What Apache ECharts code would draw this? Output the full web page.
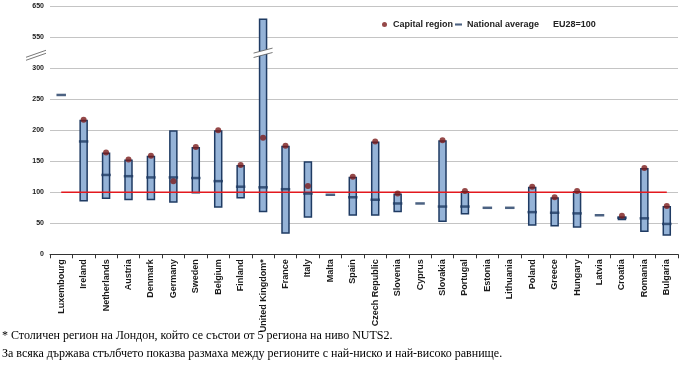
<!DOCTYPE html>
<html>
<head>
<meta charset="utf-8">
<script src="https://cdn.jsdelivr.net/npm/echarts@6/dist/echarts.min.js"></script>
<style>
html,body{margin:0;padding:0;background:#fff;}
#chart{width:685px;height:369px;}
</style>
</head>
<body>
<div id="chart"></div>
<script>
// ---- data (EU28 = 100) ----
const categories = ['Luxembourg','Ireland','Netherlands','Austria','Denmark','Germany','Sweden','Belgium','Finland','United Kingdom*','France','Italy','Malta','Spain','Czech Republic','Slovenia','Cyprus','Slovakia','Portugal','Estonia','Lithuania','Poland','Greece','Hungary','Latvia','Croatia','Romania','Bulgaria'];
const lowestRegion  = [null,85,89,87,87,83,98,75,90,68,33,59,null,62,62,68,null,52,64,null,null,46,45,43,null,55,36,30];
const highestRegion = [null,217,164,153,159,200,173,200,144,611,175,150,null,125,182,98,null,184,102,null,null,109,92,102,null,61,139,78];
const nationalAverage = [257,182,128,126,124,124,123,118,109,108,105,98,96,92,88,82,82,77,77,75,75,68,67,66,63,59,58,49];
const capitalRegion = [null,217,164,153,159,118,173,200,144,188,175,110,null,125,182,98,null,184,102,null,null,109,92,102,null,62,139,78];
const euLevel = 100;
const yTickLabels = ['0','50','100','150','200','250','300','550','650'];

// broken axis: 0-300 linear, 300-550 compressed into one step, 550-650 into one step
function brokenAxis(v){
  if (v == null) return null;
  if (v <= 300) return v;
  if (v <= 550) return 300 + (v - 300) * 0.2;
  return 350 + (v - 550) * 0.5;
}

const baseData = lowestRegion.map(v => brokenAxis(v));
const rangeData = highestRegion.map((h, i) => (h == null || lowestRegion[i] == null) ? null : brokenAxis(h) - brokenAxis(lowestRegion[i]));
const natData = nationalAverage.map(v => brokenAxis(v));
const capData = capitalRegion.map(v => brokenAxis(v));
const euData = categories.map(() => euLevel);

const chart = echarts.init(document.getElementById('chart'), null, {renderer:'canvas'});
const FONT = 'Liberation Sans, Arial, sans-serif';
const option = {
  animation: false,
  backgroundColor: '#ffffff',
  grid: {left: 50, right: 7, top: 6.3, bottom: 114.7},
  legend: {
    left: 377, top: 15,
    itemWidth: 7, itemHeight: 5, itemGap: 2,
    textStyle: {fontFamily: FONT, fontSize: 9, fontWeight: 'bold', color: '#222'},
    selectedMode: false,
    data: [
      {name: 'Capital region', icon: 'circle'},
      {name: 'National average', icon: 'path://M0,0 L10,0 L10,3 L0,3 Z'},
      {name: 'EU28=100', icon: 'none'}
    ]
  },
  xAxis: {
    type: 'category', data: categories, boundaryGap: true,
    axisLine: {lineStyle: {color: '#333', width: 1}},
    axisTick: {show: true, length: 4, lineStyle: {color: '#333'}},
    axisLabel: {rotate: 90, interval: 0, margin: 5, fontFamily: FONT, fontSize: 9, fontWeight: 'bold', color: '#1a1a1a'}
  },
  yAxis: {
    type: 'value', min: 0, max: 400, interval: 50,
    axisLine: {show: false}, axisTick: {show: false},
    splitLine: {lineStyle: {color: '#c4c4c4', width: 1}},
    axisLabel: {margin: 6, fontFamily: FONT, fontSize: 7, fontWeight: 'bold', color: '#1a1a1a',
      formatter: v => yTickLabels[Math.round(v / 50)]}
  },
  series: [
    {name: 'base', type: 'bar', stack: 'range', data: baseData, barWidth: 8.5, silent: true,
      itemStyle: {color: 'rgba(0,0,0,0)'}},
    {name: 'Regional range', type: 'bar', stack: 'range', data: rangeData, barWidth: 8.5,
      itemStyle: {color: '#95b3d7', borderColor: '#1f3b63', borderWidth: 1.5}},
    {name: 'EU28=100', type: 'line', data: euData, symbol: 'none', z: 5,
      lineStyle: {color: '#e3191e', width: 1.5}, itemStyle: {color: '#e3191e'}},
    {name: 'National average', type: 'scatter', data: natData, symbol: 'rect', symbolSize: [9.5, 2.5], z: 6,
      itemStyle: {color: '#1f3b63'}},
    {name: 'Capital region', type: 'scatter', data: capData, symbol: 'circle', symbolSize: 6, z: 7,
      itemStyle: {color: '#7a1c1c'}}
  ]
};
chart.setOption(option);

// axis-break marks
function breakMark(cx, cy, hw, r, s, fillWhite){
  const a0 = [cx - hw, cy + r - s], a1 = [cx + hw, cy - r - s];
  const b0 = [cx - hw, cy + r + s], b1 = [cx + hw, cy - r + s];
  const els = [];
  if (fillWhite) els.push({type:'polygon', shape:{points:[a0,a1,b1,b0]}, style:{fill:'#ffffff'}, z:20});
  els.push({type:'line', shape:{x1:a0[0],y1:a0[1],x2:a1[0],y2:a1[1]}, style:{stroke:'#555', lineWidth:0.8}, z:21});
  els.push({type:'line', shape:{x1:b0[0],y1:b0[1],x2:b1[0],y2:b1[1]}, style:{stroke:'#555', lineWidth:0.8}, z:21});
  return els;
}
const yLeft = chart.convertToPixel({yAxisIndex:0}, 321);
const yUK = chart.convertToPixel({yAxisIndex:0}, 325);
const xUK = chart.convertToPixel({xAxisIndex:0}, 'United Kingdom*');
const graphics = []
  .concat(breakMark(36, yLeft, 10, 3.5, 1.5, true))
  .concat(breakMark(xUK, yUK, 9.5, 2.5, 2.2, true));
graphics.push({type:'text', left: 2, top: 330, z: 30,
  style:{text:'* Столичен регион на Лондон, който се състои от 5 региона на ниво NUTS2.', font:'12px "Liberation Serif", "Times New Roman", serif', fill:'#000'}});
graphics.push({type:'text', left: 2, top: 348, z: 30,
  style:{text:'За всяка държава стълбчето показва размаха между регионите с най-ниско и най-високо равнище.', font:'12px "Liberation Serif", "Times New Roman", serif', fill:'#000'}});
chart.setOption({graphic: graphics});
</script>
</body>
</html>
